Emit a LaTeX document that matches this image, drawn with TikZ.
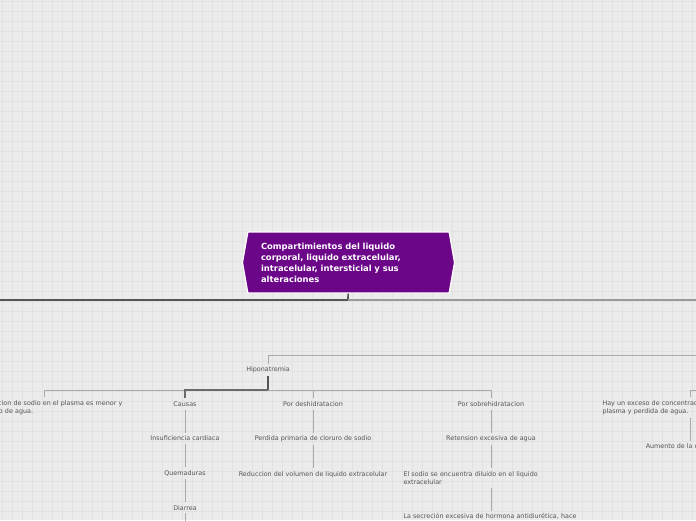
\documentclass[tikz,border=0pt]{standalone}
\usepackage{fontspec}
\setmainfont{DejaVu Sans}
\usetikzlibrary{positioning,shapes.symbols}
\definecolor{MapPurple}{HTML}{6C0689}
\definecolor{MapCanvas}{HTML}{EBEBEB}
\definecolor{MapGrid}{HTML}{E1E1E1}
\definecolor{MapInk}{HTML}{555555}
\definecolor{MapLine}{HTML}{AAAAAA}
\definecolor{MapMid}{HTML}{999999}
\definecolor{MapDark}{HTML}{6A6A6A}

\begin{document}
\begin{tikzpicture}[
  x=1pt, y=-1pt,
  node distance=23pt,
  topic/.style={shape=signal, signal to=west and east, signal pointer angle=160, draw=white, line width=1.2pt, fill=MapPurple, text=white, text width=175pt, align=left, minimum width=212pt, minimum height=61pt, inner sep=0pt, font=\fontsize{8.4}{11}\selectfont\bfseries},
  leaf/.style={text=MapInk, align=center, inner xsep=2pt, inner ysep=3pt, font=\fontsize{6.4}{8}\selectfont},
  note/.style={leaf, text width=175pt, align=left},
  link/.style={draw=MapLine, line width=1pt},
  darklink/.style={draw=MapDark, line width=1.2pt},
  midlink/.style={draw=MapMid, line width=2pt},
  trunk/.style={draw=MapInk, line width=1.6pt}
]
\useasboundingbox (0,0) rectangle (696,520);
\clip (0,0) rectangle (696,520);
% canvas
\fill[MapCanvas] (0,0) rectangle (696,520);
\foreach \gx in {2,12,...,692} \draw[MapGrid, line width=0.8pt] (\gx,0) -- (\gx,520);
\foreach \gy in {1,11,...,511} \draw[MapGrid, line width=0.8pt] (0,\gy) -- (696,\gy);

\node[topic] (root) at (348.5,262.5) {Compartimientos del liquido\\corporal, liquido extracelular,\\intracelular, intersticial y sus\\alteraciones};
\coordinate (rootj) at (348,300);
\coordinate (leftout) at (-10,300);
\coordinate (rightout) at (706,300);

\node[leaf] (hipo) at (268,370) {Hiponatremia};
\coordinate (alterout) at (706,355);
\coordinate (hipoj) at (268,390);

\node[note] (menor) at (44,407.5) {La concentracion de sodio en el plasma es menor y\\hay un exceso de agua.};
\node[leaf] (causas) at (185,404) {Causas};
\node[leaf] (deshid) at (313,404) {Por deshidratacion};
\node[leaf] (sobre) at (491,404) {Por sobrehidratacion};

\node[leaf, below=of causas] (insuf) {Insuficiencia cardiaca};
\node[leaf, below=of insuf] (quem) {Quemaduras};
\node[leaf, below=of quem] (diarrea) {Diarrea};
\coordinate (causasmore) at (185,540);

\node[leaf, below=of deshid] (perdida) {Perdida primaria de cloruro de sodio};
\node[leaf, below=of perdida] (reduc) {Reduccion del volumen de liquido extracelular};

\node[leaf, below=of sobre] (reten) {Retension excesiva de agua};
\node[note, below=of reten] (diluido) {El sodio se encuentra diluido en el liquido\\extracelular};
\node[note, below=of diluido] (secre) {La secreción excesiva de hormona antidiurética, hace};

\node[note] (exceso) at (690,407.5) {Hay un exceso de concentracion de sodio en el\\plasma y perdida de agua.};
\coordinate (hiperj) at (720,390);
\node[leaf, below=of exceso] (osmol) {Aumento de la osmolaridad};

\draw[trunk] (root) -- (rootj);
\draw[trunk, line width=2pt] (rootj) -- (leftout);
\draw[midlink] (rootj) -- (rightout);
\draw[link] (alterout) -| (hipo);
\draw[trunk] (hipo) -- (hipoj);
\draw[link] (hipoj) -| (menor);
\draw[darklink] (hipoj) -| (causas);
\draw[link] (hipoj) -| (deshid);
\draw[link] (hipoj) -| (sobre);
\draw[link] (causas) -- (insuf);
\draw[link] (insuf) -- (quem);
\draw[link] (quem) -- (diarrea);
\draw[link] (diarrea) -- (causasmore);
\draw[link] (deshid) -- (perdida);
\draw[link] (perdida) -- (reduc);
\draw[link] (sobre) -- (reten);
\draw[link] (reten) -- (diluido);
\draw[link] (diluido) -- (secre);
\draw[link] (hiperj) -| (exceso);
\draw[link] (exceso) -- (osmol);
\end{tikzpicture}
\end{document}
